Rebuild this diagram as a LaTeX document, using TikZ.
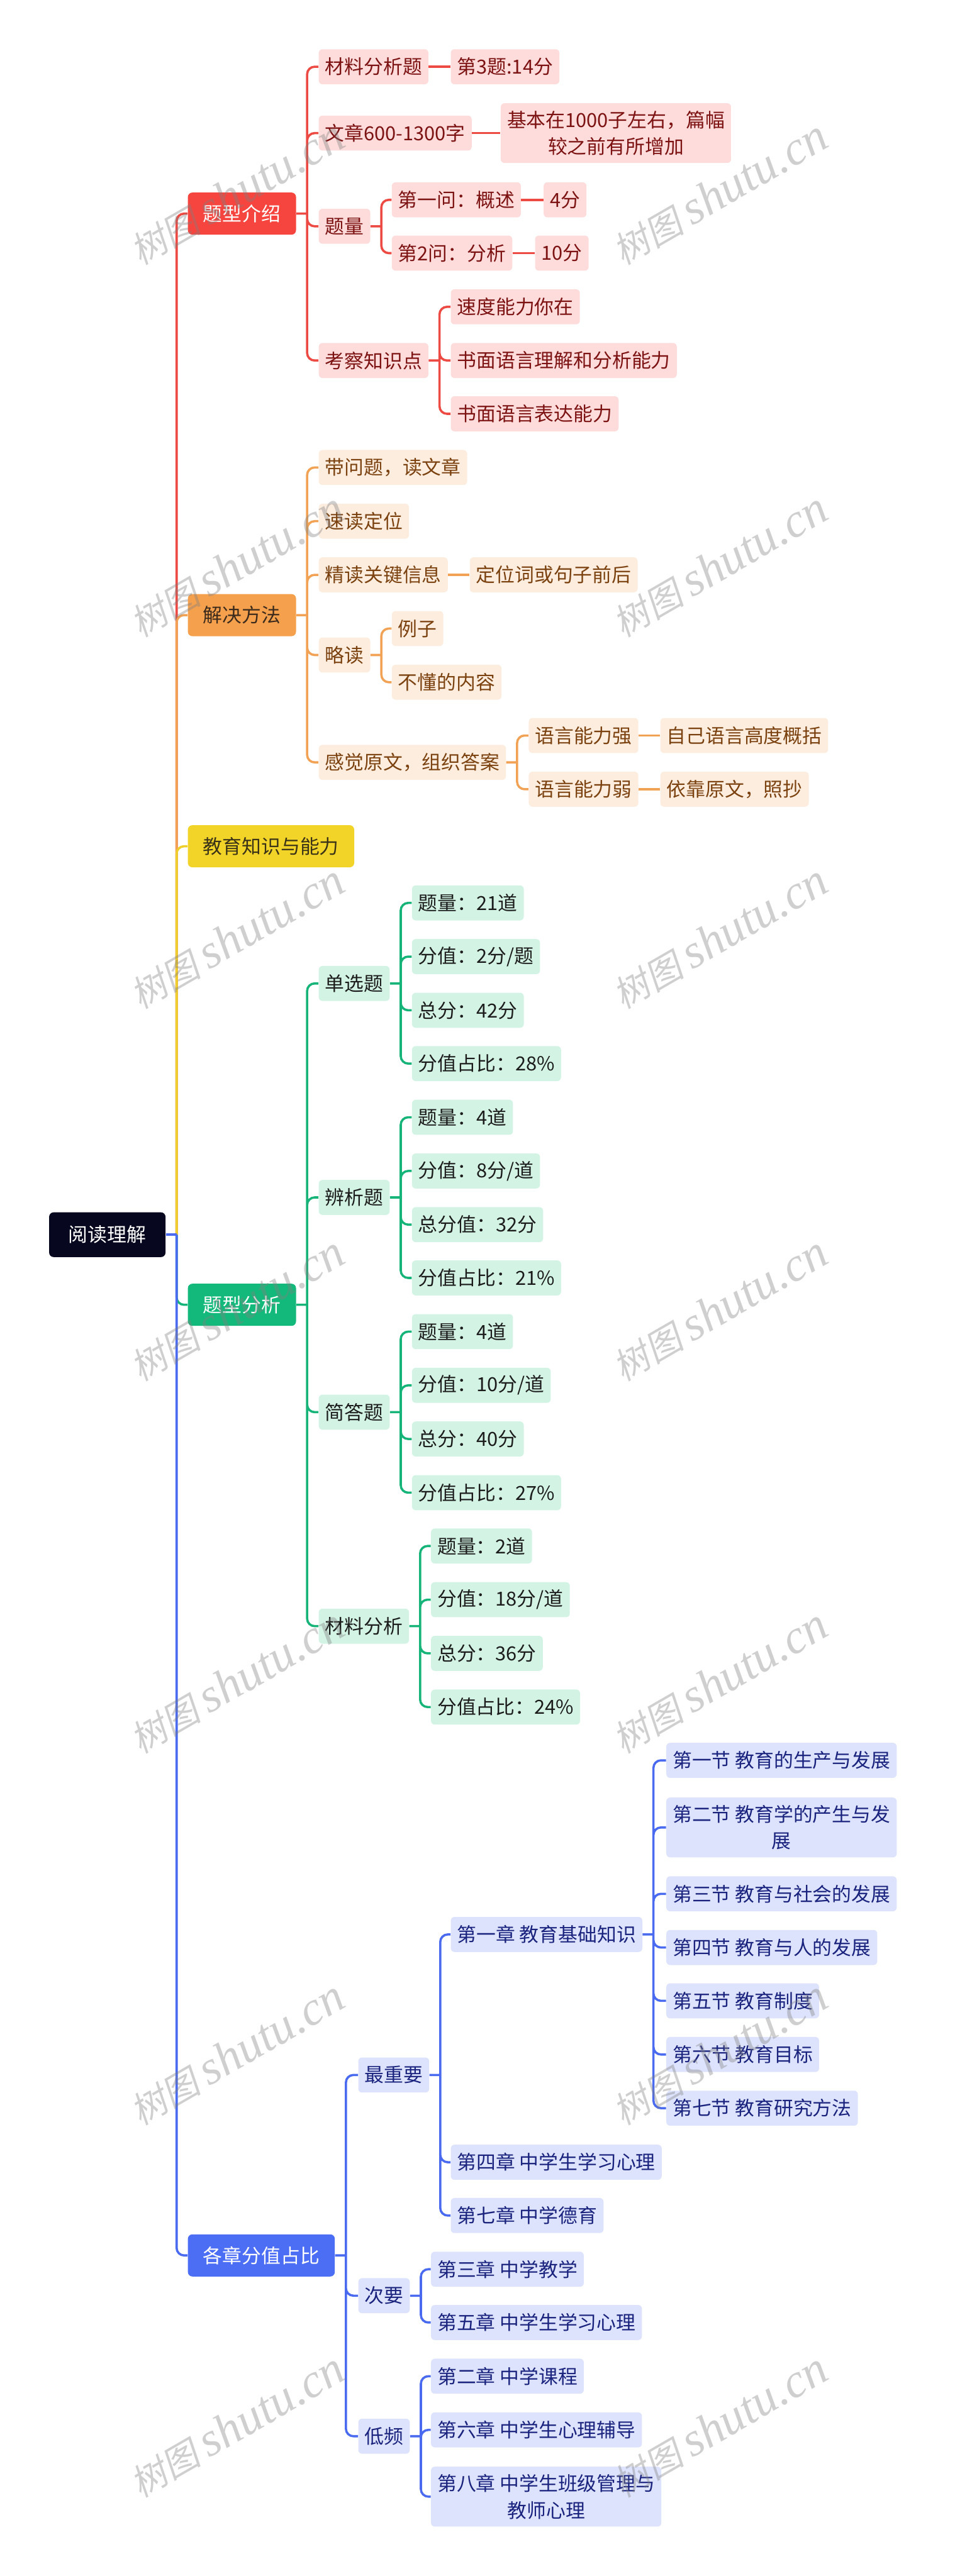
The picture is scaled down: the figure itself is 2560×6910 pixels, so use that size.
\documentclass[tikz,border=0pt]{standalone}
\usepackage{fontspec}
\setmainfont{Noto Sans CJK SC}
\newfontfamily\wmcjk[FakeSlant=0.2]{Noto Sans CJK SC}
\newfontfamily\wmlat{Liberation Serif}
\definecolor{rootbg}{HTML}{07071F}
\definecolor{redmain}{HTML}{F5453E}
\definecolor{redline}{HTML}{EC4A43}
\definecolor{redlight}{HTML}{FDDCDB}
\definecolor{redtext}{HTML}{7D1212}
\definecolor{orgmain}{HTML}{F4A04D}
\definecolor{orgline}{HTML}{F2A254}
\definecolor{orglight}{HTML}{FDEDDF}
\definecolor{orgtext}{HTML}{7B4210}
\definecolor{orgdark}{HTML}{3C2B1C}
\definecolor{ylwmain}{HTML}{F2D327}
\definecolor{ylwline}{HTML}{EFCF2C}
\definecolor{ylwtext}{HTML}{3A3318}
\definecolor{grnmain}{HTML}{13B97B}
\definecolor{grnline}{HTML}{17B47A}
\definecolor{grnlight}{HTML}{D3F4E5}
\definecolor{grntext}{HTML}{1C1C1C}
\definecolor{blumain}{HTML}{4C6EF5}
\definecolor{bluline}{HTML}{4A6BEF}
\definecolor{blulight}{HTML}{DDE3FC}
\definecolor{blutext}{HTML}{1A237E}

\begin{document}
\begin{tikzpicture}[x=0.25pt,y=-0.25pt,
box/.style={anchor=west,rounded corners=2.5pt,font=\fontsize{13pt}{18pt}\selectfont,align=center,inner ysep=5pt},
rootbox/.style={box,fill=rootbg,text=white,inner xsep=13pt,minimum height=30pt,rounded corners=3pt},
topbox/.style={box,inner xsep=10.25pt,minimum height=28.25pt,rounded corners=3pt},
leaf/.style={box,inner xsep=4.25pt,minimum height=23.5pt},
redleaf/.style={leaf,fill=redlight,text=redtext},
orgleaf/.style={leaf,fill=orglight,text=orgtext},
grnleaf/.style={leaf,fill=grnlight,text=grntext},
bluleaf/.style={leaf,fill=blulight,text=blutext},
link/.style={line width=1.5pt,rounded corners=5pt},
wm/.style={rotate=30,text=gray,text opacity=0.38}]
\useasboundingbox (0,0) rectangle (2560,6910);
\node[rootbox] (r) at (131,3312) {阅读理解};
\node[topbox,fill=redmain,text=white] (a) at (503,573) {题型介绍};
\node[topbox,fill=orgmain,text=orgdark] (b) at (503,1650) {解决方法};
\node[topbox,fill=ylwmain,text=ylwtext] (c) at (503,2270) {教育知识与能力};
\node[topbox,fill=grnmain,text=white] (d) at (503,3500) {题型分析};
\node[topbox,fill=blumain,text=white] (e) at (503,6050) {各章分值占比};
\node[redleaf] (a1) at (854,179) {材料分析题};
\node[redleaf] (a11) at (1208,179) {第3题:14分};
\node[redleaf] (a2) at (854,357) {文章600-1300字};
\node[redleaf] (a21) at (1342,357) {基本在1000子左右，篇幅\\较之前有所增加};
\node[redleaf] (a3) at (854,607) {题量};
\node[redleaf] (a31) at (1050,536) {第一问：概述};
\node[redleaf] (a311) at (1457,536) {4分};
\node[redleaf] (a32) at (1050,679) {第2问：分析};
\node[redleaf] (a321) at (1434,679) {10分};
\node[redleaf] (a4) at (854,967) {考察知识点};
\node[redleaf] (a41) at (1208,823) {速度能力你在};
\node[redleaf] (a42) at (1208,967) {书面语言理解和分析能力};
\node[redleaf] (a43) at (1208,1110) {书面语言表达能力};
\node[orgleaf] (b1) at (854,1254) {带问题，读文章};
\node[orgleaf] (b2) at (854,1398) {速读定位};
\node[orgleaf] (b3) at (854,1542) {精读关键信息};
\node[orgleaf] (b31) at (1259,1542) {定位词或句子前后};
\node[orgleaf] (b4) at (854,1757) {略读};
\node[orgleaf] (b41) at (1050,1686) {例子};
\node[orgleaf] (b42) at (1050,1830) {不懂的内容};
\node[orgleaf] (b5) at (854,2045) {感觉原文，组织答案};
\node[orgleaf] (b51) at (1417,1973) {语言能力强};
\node[orgleaf] (b511) at (1770,1973) {自己语言高度概括};
\node[orgleaf] (b52) at (1417,2117) {语言能力弱};
\node[orgleaf] (b521) at (1770,2117) {依靠原文，照抄};
\node[grnleaf] (d1) at (854,2638) {单选题};
\node[grnleaf] (d11) at (1104,2422) {题量：21道};
\node[grnleaf] (d12) at (1104,2566) {分值：2分/题};
\node[grnleaf] (d13) at (1104,2710) {总分：42分};
\node[grnleaf] (d14) at (1104,2853) {分值占比：28\%};
\node[grnleaf] (d2) at (854,3212) {辨析题};
\node[grnleaf] (d21) at (1104,2997) {题量：4道};
\node[grnleaf] (d22) at (1104,3141) {分值：8分/道};
\node[grnleaf] (d23) at (1104,3285) {总分值：32分};
\node[grnleaf] (d24) at (1104,3428) {分值占比：21\%};
\node[grnleaf] (d3) at (854,3788) {简答题};
\node[grnleaf] (d31) at (1104,3572) {题量：4道};
\node[grnleaf] (d32) at (1104,3716) {分值：10分/道};
\node[grnleaf] (d33) at (1104,3860) {总分：40分};
\node[grnleaf] (d34) at (1104,4004) {分值占比：27\%};
\node[grnleaf] (d4) at (854,4362) {材料分析};
\node[grnleaf] (d41) at (1155,4147) {题量：2道};
\node[grnleaf] (d42) at (1155,4291) {分值：18分/道};
\node[grnleaf] (d43) at (1155,4435) {总分：36分};
\node[grnleaf] (d44) at (1155,4579) {分值占比：24\%};
\node[bluleaf] (e1) at (960,5566) {最重要};
\node[bluleaf] (e11) at (1208,5189) {第一章 教育基础知识};
\node[bluleaf] (e111) at (1786,4722) {第一节 教育的生产与发展};
\node[bluleaf] (e112) at (1786,4902) {第二节 教育学的产生与发\\展};
\node[bluleaf] (e113) at (1786,5080) {第三节 教育与社会的发展};
\node[bluleaf] (e114) at (1786,5224) {第四节 教育与人的发展};
\node[bluleaf] (e115) at (1786,5367) {第五节 教育制度};
\node[bluleaf] (e116) at (1786,5511) {第六节 教育目标};
\node[bluleaf] (e117) at (1786,5655) {第七节 教育研究方法};
\node[bluleaf] (e12) at (1208,5800) {第四章 中学生学习心理};
\node[bluleaf] (e13) at (1208,5943) {第七章 中学德育};
\node[bluleaf] (e2) at (960,6158) {次要};
\node[bluleaf] (e21) at (1155,6087) {第三章 中学教学};
\node[bluleaf] (e22) at (1155,6230) {第五章 中学生学习心理};
\node[bluleaf] (e3) at (960,6535) {低频};
\node[bluleaf] (e31) at (1155,6374) {第二章 中学课程};
\node[bluleaf] (e32) at (1155,6518) {第六章 中学生心理辅导};
\node[bluleaf] (e33) at (1155,6697) {第八章 中学生班级管理与\\教师心理};
\coordinate (rj) at ([xshift=7.25pt]r.east);
\coordinate (aj) at ([xshift=7.25pt]a.east);
\coordinate (a3j) at ([xshift=7.25pt]a3.east);
\coordinate (a4j) at ([xshift=7.25pt]a4.east);
\coordinate (bj) at ([xshift=7.25pt]b.east);
\coordinate (b4j) at ([xshift=7.25pt]b4.east);
\coordinate (b5j) at ([xshift=7.25pt]b5.east);
\coordinate (dj) at ([xshift=7.25pt]d.east);
\coordinate (d1j) at ([xshift=7.25pt]d1.east);
\coordinate (d2j) at ([xshift=7.25pt]d2.east);
\coordinate (d3j) at ([xshift=7.25pt]d3.east);
\coordinate (d4j) at ([xshift=7.25pt]d4.east);
\coordinate (ej) at ([xshift=7.25pt]e.east);
\coordinate (e1j) at ([xshift=7.25pt]e1.east);
\coordinate (e11j) at ([xshift=7.25pt]e11.east);
\coordinate (e2j) at ([xshift=7.25pt]e2.east);
\coordinate (e3j) at ([xshift=7.25pt]e3.east);
\draw[link,redline] (rj) |- (a.west);
\draw[link,orgline] (rj) |- (b.west);
\draw[link,ylwline] (rj) |- (c.west);
\draw[link,grnline] (rj) |- (d.west);
\draw[link,bluline] (rj) |- (e.west);
\draw[link,bluline] (r.east) -- (rj);
\draw[link,redline] (a.east) -- (aj) (aj) |- (a1.west) (aj) |- (a2.west) (aj) |- (a3.west) (aj) |- (a4.west);
\draw[link,redline] (a1.east) -- (a11.west) (a2.east) -- (a21.west);
\draw[link,redline] (a3.east) -- (a3j) (a3j) |- (a31.west) (a3j) |- (a32.west);
\draw[link,redline] (a31.east) -- (a311.west) (a32.east) -- (a321.west);
\draw[link,redline] (a4.east) -- (a4j) (a4j) |- (a41.west) (a4j) |- (a42.west) (a4j) |- (a43.west);
\draw[link,orgline] (b.east) -- (bj) (bj) |- (b1.west) (bj) |- (b2.west) (bj) |- (b3.west) (bj) |- (b4.west) (bj) |- (b5.west);
\draw[link,orgline] (b3.east) -- (b31.west);
\draw[link,orgline] (b4.east) -- (b4j) (b4j) |- (b41.west) (b4j) |- (b42.west);
\draw[link,orgline] (b5.east) -- (b5j) (b5j) |- (b51.west) (b5j) |- (b52.west);
\draw[link,orgline] (b51.east) -- (b511.west) (b52.east) -- (b521.west);
\draw[link,grnline] (d.east) -- (dj) (dj) |- (d1.west) (dj) |- (d2.west) (dj) |- (d3.west) (dj) |- (d4.west);
\draw[link,grnline] (d1.east) -- (d1j) (d1j) |- (d11.west) (d1j) |- (d12.west) (d1j) |- (d13.west) (d1j) |- (d14.west);
\draw[link,grnline] (d2.east) -- (d2j) (d2j) |- (d21.west) (d2j) |- (d22.west) (d2j) |- (d23.west) (d2j) |- (d24.west);
\draw[link,grnline] (d3.east) -- (d3j) (d3j) |- (d31.west) (d3j) |- (d32.west) (d3j) |- (d33.west) (d3j) |- (d34.west);
\draw[link,grnline] (d4.east) -- (d4j) (d4j) |- (d41.west) (d4j) |- (d42.west) (d4j) |- (d43.west) (d4j) |- (d44.west);
\draw[link,bluline] (e.east) -- (ej) (ej) |- (e1.west) (ej) |- (e2.west) (ej) |- (e3.west);
\draw[link,bluline] (e1.east) -- (e1j) (e1j) |- (e11.west) (e1j) |- (e12.west) (e1j) |- (e13.west);
\draw[link,bluline] (e11.east) -- (e11j) (e11j) |- (e111.west) (e11j) |- (e112.west) (e11j) |- (e113.west) (e11j) |- (e114.west) (e11j) |- (e115.west) (e11j) |- (e116.west) (e11j) |- (e117.west);
\draw[link,bluline] (e2.east) -- (e2j) (e2j) |- (e21.west) (e2j) |- (e22.west);
\draw[link,bluline] (e3.east) -- (e3j) (e3j) |- (e31.west) (e3j) |- (e32.west) (e3j) |- (e33.west);
\node[wm] (wl1) at (635,517) {\fontsize{24pt}{24pt}\wmcjk 树图 \wmlat\itshape\fontsize{32pt}{32pt}\selectfont shutu.cn};
\node[wm] (wr1) at (1930,517) {\fontsize{24pt}{24pt}\wmcjk 树图 \wmlat\itshape\fontsize{32pt}{32pt}\selectfont shutu.cn};
\node[wm] (wl2) at (635,1515) {\fontsize{24pt}{24pt}\wmcjk 树图 \wmlat\itshape\fontsize{32pt}{32pt}\selectfont shutu.cn};
\node[wm] (wr2) at (1930,1515) {\fontsize{24pt}{24pt}\wmcjk 树图 \wmlat\itshape\fontsize{32pt}{32pt}\selectfont shutu.cn};
\node[wm] (wl3) at (635,2513) {\fontsize{24pt}{24pt}\wmcjk 树图 \wmlat\itshape\fontsize{32pt}{32pt}\selectfont shutu.cn};
\node[wm] (wr3) at (1930,2513) {\fontsize{24pt}{24pt}\wmcjk 树图 \wmlat\itshape\fontsize{32pt}{32pt}\selectfont shutu.cn};
\node[wm] (wl4) at (635,3511) {\fontsize{24pt}{24pt}\wmcjk 树图 \wmlat\itshape\fontsize{32pt}{32pt}\selectfont shutu.cn};
\node[wm] (wr4) at (1930,3511) {\fontsize{24pt}{24pt}\wmcjk 树图 \wmlat\itshape\fontsize{32pt}{32pt}\selectfont shutu.cn};
\node[wm] (wl5) at (635,4509) {\fontsize{24pt}{24pt}\wmcjk 树图 \wmlat\itshape\fontsize{32pt}{32pt}\selectfont shutu.cn};
\node[wm] (wr5) at (1930,4509) {\fontsize{24pt}{24pt}\wmcjk 树图 \wmlat\itshape\fontsize{32pt}{32pt}\selectfont shutu.cn};
\node[wm] (wl6) at (635,5507) {\fontsize{24pt}{24pt}\wmcjk 树图 \wmlat\itshape\fontsize{32pt}{32pt}\selectfont shutu.cn};
\node[wm] (wr6) at (1930,5507) {\fontsize{24pt}{24pt}\wmcjk 树图 \wmlat\itshape\fontsize{32pt}{32pt}\selectfont shutu.cn};
\node[wm] (wl7) at (635,6505) {\fontsize{24pt}{24pt}\wmcjk 树图 \wmlat\itshape\fontsize{32pt}{32pt}\selectfont shutu.cn};
\node[wm] (wr7) at (1930,6505) {\fontsize{24pt}{24pt}\wmcjk 树图 \wmlat\itshape\fontsize{32pt}{32pt}\selectfont shutu.cn};
\end{tikzpicture}
\end{document}
